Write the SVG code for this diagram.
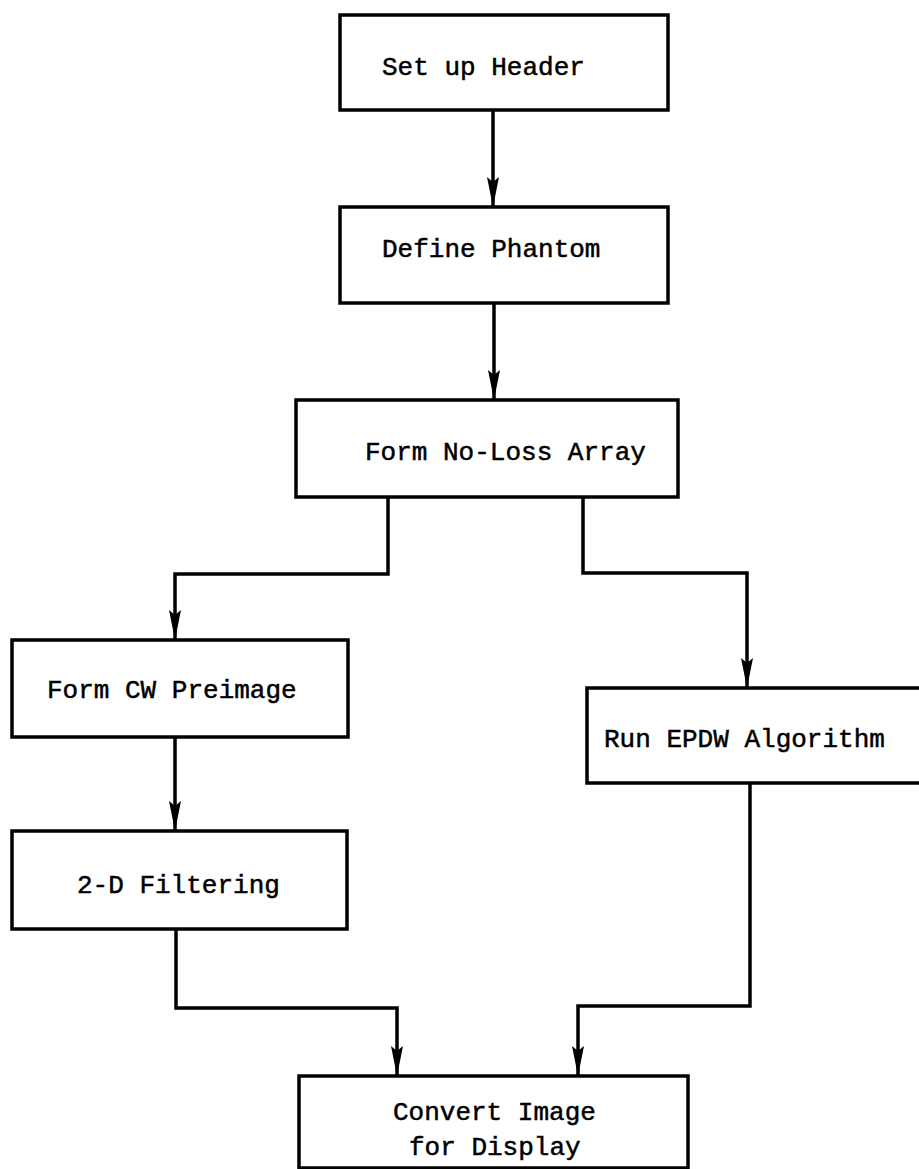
<svg xmlns="http://www.w3.org/2000/svg" width="919" height="1169" viewBox="0 0 919 1169">
<style>
.box{fill:#fff;stroke:#000;stroke-width:3.5}
.lbl{font-family:"Liberation Mono","Courier New",monospace;font-size:26px;fill:#000;stroke:#000;stroke-width:0.5}
.con{fill:none;stroke:#000;stroke-width:3.5;stroke-linejoin:miter}
</style>
<defs>
<marker id="ah" viewBox="0 0 30 12" refX="30" refY="6" markerWidth="30" markerHeight="12" markerUnits="userSpaceOnUse" orient="auto">
<path d="M0,0 L30,6 L0,12 L5,6 Z" fill="#000"/>
</marker>
</defs>
<rect width="919" height="1169" fill="#fff"/>
<g id="connectors">
<path class="con" d="M493,110 V207" marker-end="url(#ah)"/>
<path class="con" d="M494,303 V400" marker-end="url(#ah)"/>
<path class="con" d="M388,497 V574 H175 V640" marker-end="url(#ah)"/>
<path class="con" d="M583,497 V573 H747 V688" marker-end="url(#ah)"/>
<path class="con" d="M175,737 V831" marker-end="url(#ah)"/>
<path class="con" d="M176,929 V1008 H397 V1076" marker-end="url(#ah)"/>
<path class="con" d="M750,783 V1006 H578 V1076" marker-end="url(#ah)"/>
</g>
<g id="n1"><rect class="box" x="340" y="15" width="328" height="95"/><text class="lbl" x="382" y="75">Set up Header</text></g>
<g id="n2"><rect class="box" x="340" y="207" width="328" height="96"/><text class="lbl" x="382" y="257">Define Phantom</text></g>
<g id="n3"><rect class="box" x="296" y="400" width="382" height="97"/><text class="lbl" x="365" y="460">Form No-Loss Array</text></g>
<g id="n4"><rect class="box" x="12" y="640" width="336" height="97"/><text class="lbl" x="47" y="698">Form CW Preimage</text></g>
<g id="n5"><path class="box" d="M925,688 H587 V783 H925"/><text class="lbl" x="604" y="747">Run EPDW Algorithm</text></g>
<g id="n6"><rect class="box" x="12" y="831" width="335" height="98"/><text class="lbl" x="77" y="893">2-D Filtering</text></g>
<g id="n7"><rect class="box" x="299" y="1076" width="389" height="92"/><text class="lbl" x="393" y="1120">Convert Image</text><text class="lbl" x="409" y="1155">for Display</text></g>
</svg>
